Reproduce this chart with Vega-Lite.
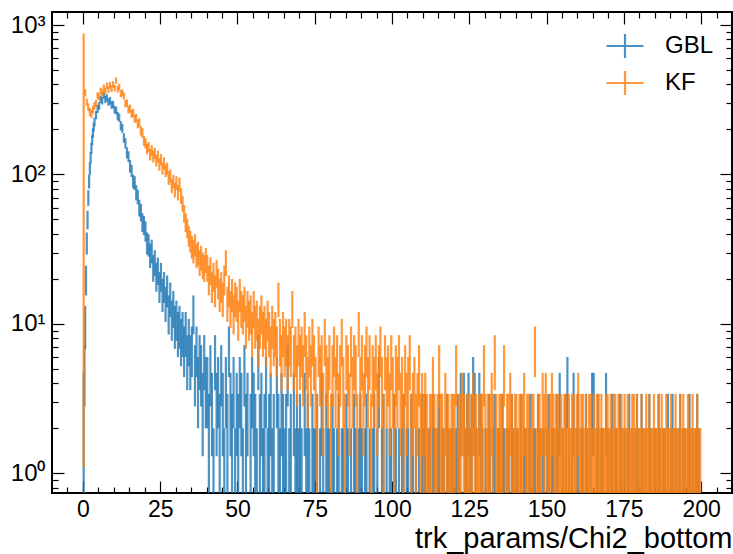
{
"$schema": "https://vega.github.io/schema/vega-lite/v6.json",
"width": 680, "height": 481,
"autosize": {"type": "none"},
"padding": {"left": 52, "top": 12, "right": 1, "bottom": 61},
"background": "white",
"config": {
  "font": "Liberation Sans",
  "view": {"stroke": "black", "strokeWidth": 2},
  "axis": {"grid": false, "domain": false, "tickColor": "black", "tickWidth": 1.2, "labelColor": "black", "labelFont": "Liberation Sans", "titleColor": "black", "zindex": 1}
},
"datasets": {
"GBL": [
{"x":0.25,"y":2,"l":0.5,"h":4.7},{"x":0.5,"y":5,"l":2.8,"h":7.2},{"x":0.75,"y":10,"l":6.8,"h":13.2},{"x":1.0,"y":20,"l":15.5,"h":24.5},{"x":1.25,"y":35,"l":29.1,"h":40.9},{"x":1.5,"y":50,"l":42.9,"h":57.1},{"x":1.75,"y":70,"l":61.6,"h":78.4},{"x":2.0,"y":90,"l":80.5,"h":99.5},{"x":2.25,"y":110,"l":99.5,"h":120.5},{"x":2.5,"y":130,"l":118.6,"h":141.4},{"x":2.75,"y":150,"l":137.8,"h":162.2},{"x":3.0,"y":170,"l":157,"h":183},{"x":3.25,"y":190,"l":176.2,"h":203.8},{"x":3.5,"y":208,"l":194,"h":222},{"x":3.75,"y":225,"l":210,"h":240},{"x":4.25,"y":250,"l":234,"h":266},{"x":4.75,"y":275,"l":258,"h":292},
{"x":5.25,"y":288,"l":271,"h":305},{"x":5.75,"y":318,"l":300,"h":336},{"x":6.25,"y":312,"l":294,"h":330},{"x":6.75,"y":340,"l":322,"h":358},{"x":7.25,"y":318,"l":300,"h":336},{"x":7.75,"y":326,"l":308,"h":344},{"x":8.25,"y":305,"l":288,"h":322},{"x":8.75,"y":312,"l":294,"h":330},{"x":9.25,"y":292,"l":275,"h":309},{"x":9.75,"y":294,"l":277,"h":311},
{"x":10.25,"y":272,"l":256,"h":288},{"x":10.75,"y":268,"l":252,"h":284},{"x":11.25,"y":246,"l":230,"h":262},{"x":11.75,"y":240,"l":225,"h":255},{"x":12.25,"y":212,"l":197,"h":227},{"x":12.75,"y":204,"l":190,"h":218},{"x":13.25,"y":176,"l":163,"h":189},{"x":13.75,"y":162,"l":149,"h":175},{"x":14.25,"y":140,"l":128,"h":152},{"x":14.75,"y":132,"l":121,"h":143},
{"x":15.25,"y":114,"l":103,"h":125},{"x":15.75,"y":106,"l":96,"h":116},{"x":16.25,"y":90,"l":80.5,"h":99.5},{"x":16.75,"y":88,"l":78.6,"h":97.4},{"x":17.25,"y":76,"l":67,"h":85},{"x":17.75,"y":71,"l":63,"h":79},{"x":18.25,"y":60,"l":52.3,"h":67.7},{"x":18.75,"y":56,"l":48.5,"h":63.5},{"x":19.25,"y":48,"l":41.1,"h":54.9},{"x":19.75,"y":46,"l":39.2,"h":52.8},
{"x":20.25,"y":42,"l":35.5,"h":48.5},{"x":20.75,"y":35,"l":29.1,"h":40.9},{"x":21.25,"y":34,"l":28.2,"h":39.8},{"x":21.75,"y":29,"l":23.6,"h":34.4},{"x":22.25,"y":31,"l":25.4,"h":36.6},{"x":22.75,"y":24,"l":19.1,"h":28.9},{"x":23.25,"y":26,"l":20.9,"h":31.1},{"x":23.75,"y":21,"l":16.4,"h":25.6},{"x":24.25,"y":23,"l":18.2,"h":27.8},{"x":24.75,"y":18,"l":13.8,"h":22.2},
{"x":25.25,"y":21,"l":16.4,"h":25.6},{"x":25.75,"y":16,"l":12,"h":20},{"x":26.25,"y":18,"l":13.8,"h":22.2},{"x":26.75,"y":14,"l":10.3,"h":17.7},{"x":27.25,"y":17,"l":12.9,"h":21.1},{"x":27.75,"y":12,"l":8.5,"h":15.5},{"x":28.25,"y":15,"l":11.1,"h":18.9},{"x":28.75,"y":11,"l":7.7,"h":14.3},{"x":29.25,"y":13,"l":9.4,"h":16.6},{"x":29.75,"y":10,"l":6.8,"h":13.2},
{"x":30.25,"y":11,"l":7.7,"h":14.3},{"x":30.75,"y":9,"l":6,"h":12},{"x":31.25,"y":10,"l":6.8,"h":13.2},{"x":31.75,"y":8,"l":5.2,"h":10.8},{"x":32.25,"y":9,"l":6,"h":12},{"x":32.75,"y":7,"l":4.4,"h":9.6},{"x":33.25,"y":9,"l":6,"h":12},{"x":33.75,"y":6,"l":3.6,"h":8.4},{"x":34.25,"y":8,"l":5.2,"h":10.8},{"x":34.75,"y":6,"l":3.6,"h":8.4},
{"x":35.25,"y":7,"l":4.4,"h":9.6},{"x":35.75,"y":12,"l":8.5,"h":15.5},{"x":36.25,"y":5,"l":2.8,"h":7.2},{"x":36.75,"y":7,"l":4.4,"h":9.6},{"x":37.25,"y":4,"l":2,"h":6},{"x":37.75,"y":6,"l":3.6,"h":8.4},{"x":38.25,"y":5,"l":2.8,"h":7.2},{"x":38.75,"y":3,"l":1.3,"h":4.7},{"x":39.25,"y":6,"l":3.6,"h":8.4},{"x":39.75,"y":4,"l":2,"h":6},
{"x":40.25,"y":4,"l":2,"h":6},{"x":40.75,"y":2,"l":0.6,"h":3.4},{"x":41.25,"y":5,"l":2.8,"h":7.2},{"x":41.75,"y":3,"l":1.3,"h":4.7},{"x":42.25,"y":1,"l":0.5,"h":2},{"x":42.75,"y":6,"l":3.6,"h":8.4},{"x":43.25,"y":3,"l":1.3,"h":4.7},{"x":43.75,"y":4,"l":2,"h":6},{"x":44.25,"y":2,"l":0.6,"h":3.4},{"x":44.75,"y":5,"l":2.8,"h":7.2},
{"x":45.25,"y":3,"l":1.3,"h":4.7},{"x":45.75,"y":1,"l":0.5,"h":2},{"x":46.25,"y":4,"l":2,"h":6},{"x":46.75,"y":2,"l":0.6,"h":3.4},{"x":47.25,"y":7,"l":4.4,"h":9.6},{"x":47.75,"y":3,"l":1.3,"h":4.7},{"x":48.25,"y":2,"l":0.6,"h":3.4},{"x":48.75,"y":4,"l":2,"h":6},{"x":49.25,"y":1,"l":0.5,"h":2},{"x":49.75,"y":3,"l":1.3,"h":4.7},
{"x":50.25,"y":2,"l":0.6,"h":3.4},{"x":50.75,"y":4,"l":2,"h":6},{"x":51.25,"y":3,"l":1.3,"h":4.7},{"x":51.75,"y":1,"l":0.5,"h":2},{"x":52.25,"y":5,"l":2.8,"h":7.2},{"x":52.75,"y":2,"l":0.6,"h":3.4},{"x":53.25,"y":3,"l":1.3,"h":4.7},{"x":54.25,"y":2,"l":0.6,"h":3.4},{"x":54.75,"y":4,"l":2,"h":6},
{"x":55.25,"y":3,"l":1.3,"h":4.7},{"x":55.75,"y":2,"l":0.6,"h":3.4},{"x":56.25,"y":1,"l":0.5,"h":2},{"x":56.75,"y":6,"l":3.6,"h":8.4},{"x":57.25,"y":2,"l":0.6,"h":3.4},{"x":57.75,"y":3,"l":1.3,"h":4.7},{"x":58.25,"y":1,"l":0.5,"h":2},{"x":58.75,"y":2,"l":0.6,"h":3.4},{"x":59.25,"y":4,"l":2,"h":6},{"x":59.75,"y":1,"l":0.5,"h":2},
{"x":60.25,"y":2,"l":0.6,"h":3.4},{"x":60.75,"y":3,"l":1.3,"h":4.7},{"x":61.25,"y":1,"l":0.5,"h":2},{"x":61.75,"y":2,"l":0.6,"h":3.4},{"x":62.75,"y":4,"l":2,"h":6},{"x":63.25,"y":2,"l":0.6,"h":3.4},{"x":63.75,"y":1,"l":0.5,"h":2},{"x":64.25,"y":3,"l":1.3,"h":4.7},{"x":64.75,"y":2,"l":0.6,"h":3.4},
{"x":65.25,"y":1,"l":0.5,"h":2},{"x":65.75,"y":2,"l":0.6,"h":3.4},{"x":66.25,"y":5,"l":2.8,"h":7.2},{"x":66.75,"y":1,"l":0.5,"h":2},{"x":67.25,"y":2,"l":0.6,"h":3.4},{"x":68.25,"y":3,"l":1.3,"h":4.7},{"x":68.75,"y":1,"l":0.5,"h":2},{"x":69.25,"y":2,"l":0.6,"h":3.4},{"x":69.75,"y":1,"l":0.5,"h":2},
{"x":70.25,"y":2,"l":0.6,"h":3.4},{"x":70.75,"y":1,"l":0.5,"h":2},{"x":71.75,"y":3,"l":1.3,"h":4.7},{"x":72.25,"y":1,"l":0.5,"h":2},{"x":72.75,"y":2,"l":0.6,"h":3.4},{"x":73.25,"y":1,"l":0.5,"h":2},{"x":74.25,"y":2,"l":0.6,"h":3.4},{"x":74.75,"y":1,"l":0.5,"h":2},
{"x":75.25,"y":1,"l":0.5,"h":2},{"x":75.75,"y":2,"l":0.6,"h":3.4},{"x":76.75,"y":1,"l":0.5,"h":2},{"x":77.25,"y":3,"l":1.3,"h":4.7},{"x":77.75,"y":1,"l":0.5,"h":2},{"x":78.75,"y":2,"l":0.6,"h":3.4},{"x":79.25,"y":1,"l":0.5,"h":2},{"x":79.75,"y":1,"l":0.5,"h":2},
{"x":80.75,"y":2,"l":0.6,"h":3.4},{"x":81.25,"y":1,"l":0.5,"h":2},{"x":82.25,"y":1,"l":0.5,"h":2},{"x":82.75,"y":2,"l":0.6,"h":3.4},{"x":83.75,"y":1,"l":0.5,"h":2},{"x":84.25,"y":1,"l":0.5,"h":2},
{"x":85.25,"y":2,"l":0.6,"h":3.4},{"x":85.75,"y":1,"l":0.5,"h":2},{"x":86.75,"y":1,"l":0.5,"h":2},{"x":87.75,"y":2,"l":0.6,"h":3.4},{"x":88.25,"y":1,"l":0.5,"h":2},{"x":89.25,"y":1,"l":0.5,"h":2},{"x":89.75,"y":2,"l":0.6,"h":3.4},
{"x":90.25,"y":1,"l":0.5,"h":2},{"x":91.25,"y":1,"l":0.5,"h":2},{"x":91.75,"y":2,"l":0.6,"h":3.4},{"x":92.75,"y":1,"l":0.5,"h":2},{"x":93.75,"y":1,"l":0.5,"h":2},{"x":94.25,"y":2,"l":0.6,"h":3.4},
{"x":95.25,"y":1,"l":0.5,"h":2},{"x":95.75,"y":4,"l":2,"h":6},{"x":96.75,"y":1,"l":0.5,"h":2},{"x":97.25,"y":2,"l":0.6,"h":3.4},{"x":98.25,"y":1,"l":0.5,"h":2},{"x":99.25,"y":1,"l":0.5,"h":2},{"x":99.75,"y":1,"l":0.5,"h":2},
{"x":100.75,"y":2,"l":0.6,"h":3.4},{"x":101.25,"y":1,"l":0.5,"h":2},{"x":102.25,"y":1,"l":0.5,"h":2},{"x":103.25,"y":1,"l":0.5,"h":2},{"x":103.75,"y":2,"l":0.6,"h":3.4},{"x":104.75,"y":1,"l":0.5,"h":2},
{"x":105.25,"y":1,"l":0.5,"h":2},{"x":106.25,"y":2,"l":0.6,"h":3.4},{"x":106.75,"y":1,"l":0.5,"h":2},{"x":107.75,"y":1,"l":0.5,"h":2},{"x":108.75,"y":1,"l":0.5,"h":2},{"x":109.75,"y":2,"l":0.6,"h":3.4},
{"x":110.25,"y":1,"l":0.5,"h":2},{"x":110.75,"y":2,"l":0.6,"h":3.4},{"x":111.75,"y":1,"l":0.5,"h":2},{"x":112.25,"y":1,"l":0.5,"h":2},{"x":113.25,"y":2,"l":0.6,"h":3.4},{"x":113.75,"y":1,"l":0.5,"h":2},{"x":114.75,"y":1,"l":0.5,"h":2},
{"x":115.25,"y":2,"l":0.6,"h":3.4},{"x":116.25,"y":1,"l":0.5,"h":2},{"x":116.75,"y":1,"l":0.5,"h":2},{"x":117.75,"y":2,"l":0.6,"h":3.4},{"x":118.25,"y":1,"l":0.5,"h":2},{"x":119.25,"y":1,"l":0.5,"h":2},{"x":119.75,"y":1,"l":0.5,"h":2},
{"x":120.75,"y":1,"l":0.5,"h":2},{"x":121.25,"y":2,"l":0.6,"h":3.4},{"x":121.75,"y":1,"l":0.5,"h":2},{"x":122.25,"y":3,"l":1.3,"h":4.7},{"x":123.25,"y":3,"l":1.3,"h":4.7},{"x":123.75,"y":1,"l":0.5,"h":2},{"x":124.25,"y":2,"l":0.6,"h":3.4},{"x":124.75,"y":3,"l":1.3,"h":4.7},
{"x":125.25,"y":1,"l":0.5,"h":2},{"x":125.75,"y":2,"l":0.6,"h":3.4},{"x":126.25,"y":4,"l":2,"h":6},{"x":126.75,"y":3,"l":1.3,"h":4.7},{"x":127.25,"y":1,"l":0.5,"h":2},{"x":128.25,"y":3,"l":1.3,"h":4.7},{"x":128.75,"y":2,"l":0.6,"h":3.4},{"x":129.25,"y":1,"l":0.5,"h":2},
{"x":130.25,"y":1,"l":0.5,"h":2},{"x":131.25,"y":2,"l":0.6,"h":3.4},{"x":131.75,"y":1,"l":0.5,"h":2},{"x":132.75,"y":1,"l":0.5,"h":2},{"x":133.25,"y":2,"l":0.6,"h":3.4},{"x":134.25,"y":1,"l":0.5,"h":2},{"x":134.75,"y":1,"l":0.5,"h":2},
{"x":135.75,"y":2,"l":0.6,"h":3.4},{"x":136.25,"y":1,"l":0.5,"h":2},{"x":137.25,"y":1,"l":0.5,"h":2},{"x":137.75,"y":1,"l":0.5,"h":2},{"x":138.75,"y":2,"l":0.6,"h":3.4},{"x":139.25,"y":1,"l":0.5,"h":2},
{"x":140.25,"y":1,"l":0.5,"h":2},{"x":140.75,"y":1,"l":0.5,"h":2},{"x":141.75,"y":2,"l":0.6,"h":3.4},{"x":142.75,"y":1,"l":0.5,"h":2},{"x":143.25,"y":1,"l":0.5,"h":2},{"x":144.25,"y":1,"l":0.5,"h":2},{"x":144.75,"y":2,"l":0.6,"h":3.4},
{"x":145.75,"y":1,"l":0.5,"h":2},{"x":146.25,"y":1,"l":0.5,"h":2},{"x":147.25,"y":2,"l":0.6,"h":3.4},{"x":147.75,"y":1,"l":0.5,"h":2},{"x":148.75,"y":1,"l":0.5,"h":2},{"x":149.25,"y":1,"l":0.5,"h":2},
{"x":150.25,"y":1,"l":0.5,"h":2},{"x":150.75,"y":2,"l":0.6,"h":3.4},{"x":151.75,"y":1,"l":0.5,"h":2},{"x":152.25,"y":1,"l":0.5,"h":2},{"x":153.25,"y":2,"l":0.6,"h":3.4},{"x":153.75,"y":1,"l":0.5,"h":2},{"x":154.25,"y":3,"l":1.3,"h":4.7},
{"x":155.25,"y":1,"l":0.5,"h":2},{"x":156.25,"y":2,"l":0.6,"h":3.4},{"x":156.75,"y":4,"l":2,"h":6},{"x":157.25,"y":1,"l":0.5,"h":2},{"x":158.25,"y":1,"l":0.5,"h":2},{"x":158.75,"y":3,"l":1.3,"h":4.7},{"x":159.75,"y":1,"l":0.5,"h":2},
{"x":160.25,"y":2,"l":0.6,"h":3.4},{"x":161.25,"y":1,"l":0.5,"h":2},{"x":161.75,"y":1,"l":0.5,"h":2},{"x":162.75,"y":2,"l":0.6,"h":3.4},{"x":163.25,"y":1,"l":0.5,"h":2},{"x":164.25,"y":1,"l":0.5,"h":2},{"x":164.75,"y":3,"l":1.3,"h":4.7},
{"x":165.25,"y":3,"l":1.3,"h":4.7},{"x":166.25,"y":1,"l":0.5,"h":2},{"x":166.75,"y":2,"l":0.6,"h":3.4},{"x":167.75,"y":1,"l":0.5,"h":2},{"x":168.25,"y":1,"l":0.5,"h":2},{"x":169.25,"y":3,"l":1.3,"h":4.7},{"x":169.75,"y":1,"l":0.5,"h":2},
{"x":170.75,"y":1,"l":0.5,"h":2},{"x":171.25,"y":2,"l":0.6,"h":3.4},{"x":172.25,"y":1,"l":0.5,"h":2},{"x":172.75,"y":1,"l":0.5,"h":2},{"x":173.75,"y":2,"l":0.6,"h":3.4},{"x":174.25,"y":1,"l":0.5,"h":2},
{"x":175.25,"y":1,"l":0.5,"h":2},{"x":176.25,"y":1,"l":0.5,"h":2},{"x":176.75,"y":2,"l":0.6,"h":3.4},{"x":177.75,"y":1,"l":0.5,"h":2},{"x":178.75,"y":1,"l":0.5,"h":2},{"x":179.25,"y":2,"l":0.6,"h":3.4},{"x":179.75,"y":1,"l":0.5,"h":2},
{"x":180.75,"y":2,"l":0.6,"h":3.4},{"x":181.25,"y":1,"l":0.5,"h":2},{"x":182.25,"y":1,"l":0.5,"h":2},{"x":183.25,"y":2,"l":0.6,"h":3.4},{"x":183.75,"y":1,"l":0.5,"h":2},{"x":184.75,"y":1,"l":0.5,"h":2},
{"x":185.25,"y":1,"l":0.5,"h":2},{"x":186.25,"y":2,"l":0.6,"h":3.4},{"x":186.75,"y":1,"l":0.5,"h":2},{"x":187.75,"y":1,"l":0.5,"h":2},{"x":188.25,"y":1,"l":0.5,"h":2},{"x":189.25,"y":2,"l":0.6,"h":3.4},
{"x":190.25,"y":1,"l":0.5,"h":2},{"x":190.75,"y":2,"l":0.6,"h":3.4},{"x":191.75,"y":1,"l":0.5,"h":2},{"x":192.75,"y":1,"l":0.5,"h":2},{"x":193.25,"y":2,"l":0.6,"h":3.4},{"x":194.25,"y":1,"l":0.5,"h":2},{"x":194.75,"y":1,"l":0.5,"h":2},
{"x":195.75,"y":1,"l":0.5,"h":2},{"x":196.25,"y":2,"l":0.6,"h":3.4},{"x":197.25,"y":1,"l":0.5,"h":2},{"x":198.25,"y":1,"l":0.5,"h":2},{"x":198.75,"y":2,"l":0.6,"h":3.4},{"x":199.25,"y":1,"l":0.5,"h":2}
],
"KF": [
{"x":0.25,"y":850,"l":1.1,"h":879},{"x":0.75,"y":352,"l":333,"h":371},{"x":1.25,"y":305,"l":288,"h":322},{"x":1.75,"y":282,"l":265,"h":299},{"x":2.25,"y":262,"l":246,"h":278},{"x":2.75,"y":255,"l":239,"h":271},{"x":3.25,"y":272,"l":255,"h":289},{"x":3.75,"y":288,"l":271,"h":305},{"x":4.25,"y":300,"l":283,"h":317},{"x":4.75,"y":338,"l":320,"h":356},
{"x":5.25,"y":330,"l":312,"h":348},{"x":5.75,"y":362,"l":343,"h":381},{"x":6.25,"y":352,"l":333,"h":371},{"x":6.75,"y":380,"l":361,"h":399},{"x":7.25,"y":362,"l":343,"h":381},{"x":7.75,"y":392,"l":372,"h":412},{"x":8.25,"y":370,"l":351,"h":389},{"x":8.75,"y":396,"l":376,"h":416},{"x":9.25,"y":376,"l":357,"h":395},{"x":9.75,"y":400,"l":380,"h":420},
{"x":10.25,"y":378,"l":359,"h":397},{"x":10.75,"y":425,"l":404,"h":446},{"x":11.25,"y":372,"l":353,"h":391},{"x":11.75,"y":385,"l":365,"h":405},{"x":12.25,"y":348,"l":329,"h":367},{"x":12.75,"y":352,"l":333,"h":371},{"x":13.25,"y":335,"l":317,"h":353},{"x":13.75,"y":298,"l":281,"h":315},{"x":14.25,"y":300,"l":283,"h":317},{"x":14.75,"y":272,"l":256,"h":288},
{"x":15.25,"y":276,"l":259,"h":293},{"x":15.75,"y":255,"l":239,"h":271},{"x":16.25,"y":258,"l":242,"h":274},{"x":16.75,"y":236,"l":221,"h":251},{"x":17.25,"y":240,"l":225,"h":255},{"x":17.75,"y":218,"l":203,"h":233},{"x":18.25,"y":222,"l":207,"h":237},{"x":18.75,"y":196,"l":182,"h":210},{"x":19.25,"y":190,"l":176,"h":204},{"x":19.75,"y":168,"l":155,"h":181},
{"x":20.25,"y":162,"l":149,"h":175},{"x":20.75,"y":148,"l":136,"h":160},{"x":21.25,"y":153,"l":141,"h":165},{"x":21.75,"y":136,"l":124,"h":148},{"x":22.25,"y":145,"l":133,"h":157},{"x":22.75,"y":132,"l":120,"h":144},{"x":23.25,"y":139,"l":127,"h":151},{"x":23.75,"y":124,"l":113,"h":135},{"x":24.25,"y":132,"l":120,"h":144},{"x":24.75,"y":117,"l":106,"h":128},
{"x":25.25,"y":126,"l":115,"h":137},{"x":25.75,"y":110,"l":100,"h":120},{"x":26.25,"y":119,"l":108,"h":130},{"x":26.75,"y":106,"l":96,"h":116},{"x":27.25,"y":110,"l":100,"h":120},{"x":27.75,"y":95,"l":85,"h":105},{"x":28.25,"y":98,"l":88,"h":108},{"x":28.75,"y":84,"l":75,"h":93},{"x":29.25,"y":90,"l":80.5,"h":99.5},{"x":29.75,"y":79,"l":70,"h":88},
{"x":30.25,"y":88,"l":78.6,"h":97.4},{"x":30.75,"y":76,"l":67,"h":85},{"x":31.25,"y":86,"l":76.7,"h":95.3},{"x":31.75,"y":72,"l":63.5,"h":80.5},{"x":32.25,"y":64,"l":56,"h":72},{"x":32.75,"y":55,"l":47.6,"h":62.4},{"x":33.25,"y":48,"l":41.1,"h":54.9},{"x":33.75,"y":44,"l":37.4,"h":50.6},{"x":34.25,"y":39,"l":32.8,"h":45.2},{"x":34.75,"y":36,"l":30,"h":42},
{"x":35.25,"y":33,"l":27.3,"h":38.7},{"x":35.75,"y":31,"l":25.4,"h":36.6},{"x":36.25,"y":34,"l":28.2,"h":39.8},{"x":36.75,"y":29,"l":23.6,"h":34.4},{"x":37.25,"y":30,"l":24.5,"h":35.5},{"x":37.75,"y":26,"l":20.9,"h":31.1},{"x":38.25,"y":28,"l":22.7,"h":33.3},{"x":38.75,"y":25,"l":20,"h":30},{"x":39.25,"y":24,"l":19.1,"h":28.9},{"x":39.75,"y":27,"l":21.8,"h":32.2},
{"x":40.25,"y":24,"l":19.1,"h":28.9},{"x":40.75,"y":20,"l":15.5,"h":24.5},{"x":41.25,"y":23,"l":18.2,"h":27.8},{"x":41.75,"y":18,"l":13.8,"h":22.2},{"x":42.25,"y":21,"l":16.4,"h":25.6},{"x":42.75,"y":17,"l":12.9,"h":21.1},{"x":43.25,"y":22,"l":17.3,"h":26.7},{"x":43.75,"y":19,"l":14.6,"h":23.4},{"x":44.25,"y":16,"l":12,"h":20},{"x":44.75,"y":18,"l":13.8,"h":22.2},
{"x":45.25,"y":15,"l":11.1,"h":18.9},{"x":45.75,"y":20,"l":15.5,"h":24.5},{"x":46.25,"y":26,"l":20.9,"h":31.1},{"x":46.75,"y":14,"l":10.3,"h":17.7},{"x":47.25,"y":17,"l":12.9,"h":21.1},{"x":47.75,"y":13,"l":9.4,"h":16.6},{"x":48.25,"y":16,"l":12,"h":20},{"x":48.75,"y":12,"l":8.5,"h":15.5},{"x":49.25,"y":15,"l":11.1,"h":18.9},{"x":49.75,"y":14,"l":10.3,"h":17.7},
{"x":50.25,"y":11,"l":7.7,"h":14.3},{"x":50.75,"y":16,"l":12,"h":20},{"x":51.25,"y":13,"l":9.4,"h":16.6},{"x":51.75,"y":12,"l":8.5,"h":15.5},{"x":52.25,"y":14,"l":10.3,"h":17.7},{"x":52.75,"y":10,"l":6.8,"h":13.2},{"x":53.25,"y":13,"l":9.4,"h":16.6},{"x":53.75,"y":11,"l":7.7,"h":14.3},{"x":54.25,"y":12,"l":8.5,"h":15.5},{"x":54.75,"y":9,"l":6,"h":12},
{"x":55.25,"y":13,"l":9.4,"h":16.6},{"x":55.75,"y":10,"l":6.8,"h":13.2},{"x":56.25,"y":11,"l":7.7,"h":14.3},{"x":56.75,"y":8,"l":5.2,"h":10.8},{"x":57.25,"y":10,"l":6.8,"h":13.2},{"x":57.75,"y":12,"l":8.5,"h":15.5},{"x":58.25,"y":9,"l":6,"h":12},{"x":58.75,"y":10,"l":6.8,"h":13.2},{"x":59.25,"y":8,"l":5.2,"h":10.8},{"x":59.75,"y":11,"l":7.7,"h":14.3},
{"x":60.25,"y":9,"l":6,"h":12},{"x":60.75,"y":7,"l":4.4,"h":9.6},{"x":61.25,"y":10,"l":6.8,"h":13.2},{"x":61.75,"y":8,"l":5.2,"h":10.8},{"x":62.25,"y":9,"l":6,"h":12},{"x":62.75,"y":7,"l":4.4,"h":9.6},{"x":63.25,"y":15,"l":11.1,"h":18.9},{"x":63.75,"y":8,"l":5.2,"h":10.8},{"x":64.25,"y":6,"l":3.6,"h":8.4},{"x":64.75,"y":9,"l":6,"h":12},
{"x":65.25,"y":7,"l":4.4,"h":9.6},{"x":65.75,"y":8,"l":5.2,"h":10.8},{"x":66.25,"y":6,"l":3.6,"h":8.4},{"x":66.75,"y":8,"l":5.2,"h":10.8},{"x":67.25,"y":7,"l":4.4,"h":9.6},{"x":67.75,"y":13,"l":9.4,"h":16.6},{"x":68.25,"y":6,"l":3.6,"h":8.4},{"x":68.75,"y":7,"l":4.4,"h":9.6},{"x":69.25,"y":5,"l":2.8,"h":7.2},{"x":69.75,"y":8,"l":5.2,"h":10.8},
{"x":70.25,"y":6,"l":3.6,"h":8.4},{"x":70.75,"y":7,"l":4.4,"h":9.6},{"x":71.25,"y":5,"l":2.8,"h":7.2},{"x":71.75,"y":9,"l":6,"h":12},{"x":72.25,"y":6,"l":3.6,"h":8.4},{"x":72.75,"y":4,"l":2,"h":6},{"x":73.25,"y":7,"l":4.4,"h":9.6},{"x":73.75,"y":5,"l":2.8,"h":7.2},{"x":74.25,"y":8,"l":5.2,"h":10.8},{"x":74.75,"y":6,"l":3.6,"h":8.4},
{"x":75.25,"y":4,"l":2,"h":6},{"x":75.75,"y":2,"l":0.6,"h":3.4},{"x":76.25,"y":7,"l":4.4,"h":9.6},{"x":76.75,"y":5,"l":2.8,"h":7.2},{"x":77.25,"y":6,"l":3.6,"h":8.4},{"x":77.75,"y":3,"l":1.3,"h":4.7},{"x":78.25,"y":8,"l":5.2,"h":10.8},{"x":78.75,"y":5,"l":2.8,"h":7.2},{"x":79.25,"y":4,"l":2,"h":6},{"x":79.75,"y":6,"l":3.6,"h":8.4},
{"x":80.25,"y":2,"l":0.6,"h":3.4},{"x":80.75,"y":5,"l":2.8,"h":7.2},{"x":81.25,"y":7,"l":4.4,"h":9.6},{"x":81.75,"y":4,"l":2,"h":6},{"x":82.25,"y":6,"l":3.6,"h":8.4},{"x":82.75,"y":3,"l":1.3,"h":4.7},{"x":83.25,"y":5,"l":2.8,"h":7.2},{"x":83.75,"y":8,"l":5.2,"h":10.8},{"x":84.25,"y":4,"l":2,"h":6},{"x":84.75,"y":2,"l":0.6,"h":3.4},
{"x":85.25,"y":6,"l":3.6,"h":8.4},{"x":85.75,"y":5,"l":2.8,"h":7.2},{"x":86.25,"y":3,"l":1.3,"h":4.7},{"x":86.75,"y":7,"l":4.4,"h":9.6},{"x":87.25,"y":4,"l":2,"h":6},{"x":87.75,"y":6,"l":3.6,"h":8.4},{"x":88.25,"y":5,"l":2.8,"h":7.2},{"x":88.75,"y":2,"l":0.6,"h":3.4},{"x":89.25,"y":9,"l":6,"h":12},{"x":89.75,"y":4,"l":2,"h":6},
{"x":90.25,"y":6,"l":3.6,"h":8.4},{"x":90.75,"y":3,"l":1.3,"h":4.7},{"x":91.25,"y":5,"l":2.8,"h":7.2},{"x":91.75,"y":7,"l":4.4,"h":9.6},{"x":92.25,"y":4,"l":2,"h":6},{"x":92.75,"y":6,"l":3.6,"h":8.4},{"x":93.25,"y":2,"l":0.6,"h":3.4},{"x":93.75,"y":5,"l":2.8,"h":7.2},{"x":94.25,"y":4,"l":2,"h":6},{"x":94.75,"y":6,"l":3.6,"h":8.4},
{"x":95.25,"y":3,"l":1.3,"h":4.7},{"x":95.75,"y":5,"l":2.8,"h":7.2},{"x":96.25,"y":7,"l":4.4,"h":9.6},{"x":96.75,"y":4,"l":2,"h":6},{"x":97.25,"y":2,"l":0.6,"h":3.4},{"x":97.75,"y":6,"l":3.6,"h":8.4},{"x":98.25,"y":4,"l":2,"h":6},{"x":98.75,"y":5,"l":2.8,"h":7.2},{"x":99.25,"y":3,"l":1.3,"h":4.7},{"x":99.75,"y":6,"l":3.6,"h":8.4},
{"x":100.25,"y":4,"l":2,"h":6},{"x":100.75,"y":2,"l":0.6,"h":3.4},{"x":101.25,"y":5,"l":2.8,"h":7.2},{"x":101.75,"y":4,"l":2,"h":6},{"x":102.25,"y":6,"l":3.6,"h":8.4},{"x":102.75,"y":3,"l":1.3,"h":4.7},{"x":103.25,"y":4,"l":2,"h":6},{"x":103.75,"y":2,"l":0.6,"h":3.4},{"x":104.25,"y":5,"l":2.8,"h":7.2},{"x":104.75,"y":3,"l":1.3,"h":4.7},
{"x":105.25,"y":4,"l":2,"h":6},{"x":105.75,"y":6,"l":3.6,"h":8.4},{"x":106.25,"y":2,"l":0.6,"h":3.4},{"x":106.75,"y":3,"l":1.3,"h":4.7},{"x":107.25,"y":4,"l":2,"h":6},{"x":107.75,"y":2,"l":0.6,"h":3.4},{"x":108.25,"y":3,"l":1.3,"h":4.7},{"x":108.75,"y":5,"l":2.8,"h":7.2},{"x":109.25,"y":2,"l":0.6,"h":3.4},{"x":109.75,"y":3,"l":1.3,"h":4.7},
{"x":110.25,"y":2,"l":0.6,"h":3.4},{"x":110.75,"y":3,"l":1.3,"h":4.7},{"x":111.25,"y":2,"l":0.6,"h":3.4},{"x":111.75,"y":1,"l":0.5,"h":2},{"x":112.25,"y":2,"l":0.6,"h":3.4},{"x":112.75,"y":2,"l":0.6,"h":3.4},{"x":113.25,"y":4,"l":2,"h":6},{"x":113.75,"y":2,"l":0.6,"h":3.4},{"x":114.25,"y":1,"l":0.5,"h":2},{"x":114.75,"y":2,"l":0.6,"h":3.4},
{"x":115.25,"y":5,"l":2.8,"h":7.2},{"x":115.75,"y":2,"l":0.6,"h":3.4},{"x":116.25,"y":2,"l":0.6,"h":3.4},{"x":116.75,"y":1,"l":0.5,"h":2},{"x":117.25,"y":3,"l":1.3,"h":4.7},{"x":117.75,"y":2,"l":0.6,"h":3.4},{"x":118.25,"y":2,"l":0.6,"h":3.4},{"x":118.75,"y":1,"l":0.5,"h":2},{"x":119.25,"y":2,"l":0.6,"h":3.4},{"x":119.75,"y":2,"l":0.6,"h":3.4},
{"x":120.25,"y":2,"l":0.6,"h":3.4},{"x":120.75,"y":5,"l":2.8,"h":7.2},{"x":121.25,"y":1,"l":0.5,"h":2},{"x":121.75,"y":2,"l":0.6,"h":3.4},{"x":122.25,"y":2,"l":0.6,"h":3.4},{"x":122.75,"y":3,"l":1.3,"h":4.7},{"x":123.25,"y":2,"l":0.6,"h":3.4},{"x":123.75,"y":1,"l":0.5,"h":2},{"x":124.25,"y":2,"l":0.6,"h":3.4},{"x":124.75,"y":2,"l":0.6,"h":3.4},
{"x":125.25,"y":1,"l":0.5,"h":2},{"x":125.75,"y":2,"l":0.6,"h":3.4},{"x":126.25,"y":3,"l":1.3,"h":4.7},{"x":126.75,"y":2,"l":0.6,"h":3.4},{"x":127.25,"y":2,"l":0.6,"h":3.4},{"x":127.75,"y":1,"l":0.5,"h":2},{"x":128.25,"y":2,"l":0.6,"h":3.4},{"x":128.75,"y":2,"l":0.6,"h":3.4},{"x":129.25,"y":2,"l":0.6,"h":3.4},{"x":129.75,"y":5,"l":2.8,"h":7.2},
{"x":130.25,"y":2,"l":0.6,"h":3.4},{"x":130.75,"y":1,"l":0.5,"h":2},{"x":131.25,"y":2,"l":0.6,"h":3.4},{"x":131.75,"y":2,"l":0.6,"h":3.4},{"x":132.25,"y":3,"l":1.3,"h":4.7},{"x":132.75,"y":2,"l":0.6,"h":3.4},{"x":133.25,"y":6,"l":3.6,"h":8.4},{"x":133.75,"y":2,"l":0.6,"h":3.4},{"x":134.25,"y":1,"l":0.5,"h":2},{"x":134.75,"y":2,"l":0.6,"h":3.4},
{"x":135.25,"y":2,"l":0.6,"h":3.4},{"x":135.75,"y":2,"l":0.6,"h":3.4},{"x":136.25,"y":5,"l":2.8,"h":7.2},{"x":136.75,"y":1,"l":0.5,"h":2},{"x":137.25,"y":2,"l":0.6,"h":3.4},{"x":137.75,"y":2,"l":0.6,"h":3.4},{"x":138.25,"y":3,"l":1.3,"h":4.7},{"x":138.75,"y":2,"l":0.6,"h":3.4},{"x":139.25,"y":1,"l":0.5,"h":2},{"x":139.75,"y":2,"l":0.6,"h":3.4},
{"x":140.25,"y":2,"l":0.6,"h":3.4},{"x":140.75,"y":1,"l":0.5,"h":2},{"x":141.25,"y":2,"l":0.6,"h":3.4},{"x":141.75,"y":2,"l":0.6,"h":3.4},{"x":142.25,"y":2,"l":0.6,"h":3.4},{"x":142.75,"y":3,"l":1.3,"h":4.7},{"x":143.25,"y":1,"l":0.5,"h":2},{"x":143.75,"y":2,"l":0.6,"h":3.4},{"x":144.25,"y":2,"l":0.6,"h":3.4},{"x":144.75,"y":1,"l":0.5,"h":2},
{"x":145.25,"y":2,"l":0.6,"h":3.4},{"x":145.75,"y":2,"l":0.6,"h":3.4},{"x":146.25,"y":7,"l":4.4,"h":9.6},{"x":146.75,"y":1,"l":0.5,"h":2},{"x":147.25,"y":2,"l":0.6,"h":3.4},{"x":147.75,"y":2,"l":0.6,"h":3.4},{"x":148.25,"y":1,"l":0.5,"h":2},{"x":148.75,"y":3,"l":1.3,"h":4.7},{"x":149.25,"y":2,"l":0.6,"h":3.4},{"x":149.75,"y":3,"l":1.3,"h":4.7},
{"x":150.25,"y":2,"l":0.6,"h":3.4},{"x":150.75,"y":1,"l":0.5,"h":2},{"x":151.25,"y":2,"l":0.6,"h":3.4},{"x":151.75,"y":3,"l":1.3,"h":4.7},{"x":152.25,"y":2,"l":0.6,"h":3.4},{"x":152.75,"y":1,"l":0.5,"h":2},{"x":153.25,"y":2,"l":0.6,"h":3.4},{"x":153.75,"y":2,"l":0.6,"h":3.4},{"x":154.25,"y":1,"l":0.5,"h":2},{"x":154.75,"y":2,"l":0.6,"h":3.4},
{"x":155.25,"y":1,"l":0.5,"h":2},{"x":155.75,"y":2,"l":0.6,"h":3.4},{"x":156.25,"y":2,"l":0.6,"h":3.4},{"x":156.75,"y":1,"l":0.5,"h":2},{"x":157.25,"y":2,"l":0.6,"h":3.4},{"x":157.75,"y":1,"l":0.5,"h":2},{"x":158.25,"y":2,"l":0.6,"h":3.4},{"x":158.75,"y":2,"l":0.6,"h":3.4},{"x":159.25,"y":1,"l":0.5,"h":2},{"x":159.75,"y":2,"l":0.6,"h":3.4},
{"x":160.25,"y":3,"l":1.3,"h":4.7},{"x":160.75,"y":1,"l":0.5,"h":2},{"x":161.25,"y":2,"l":0.6,"h":3.4},{"x":161.75,"y":2,"l":0.6,"h":3.4},{"x":162.25,"y":1,"l":0.5,"h":2},{"x":162.75,"y":2,"l":0.6,"h":3.4},{"x":163.25,"y":1,"l":0.5,"h":2},{"x":163.75,"y":2,"l":0.6,"h":3.4},{"x":164.25,"y":2,"l":0.6,"h":3.4},{"x":164.75,"y":1,"l":0.5,"h":2},
{"x":165.25,"y":2,"l":0.6,"h":3.4},{"x":165.75,"y":1,"l":0.5,"h":2},{"x":166.25,"y":2,"l":0.6,"h":3.4},{"x":166.75,"y":2,"l":0.6,"h":3.4},{"x":167.25,"y":1,"l":0.5,"h":2},{"x":167.75,"y":2,"l":0.6,"h":3.4},{"x":168.25,"y":1,"l":0.5,"h":2},{"x":168.75,"y":1,"l":0.5,"h":2},{"x":169.25,"y":2,"l":0.6,"h":3.4},{"x":169.75,"y":2,"l":0.6,"h":3.4},
{"x":170.25,"y":1,"l":0.5,"h":2},{"x":170.75,"y":2,"l":0.6,"h":3.4},{"x":171.25,"y":1,"l":0.5,"h":2},{"x":171.75,"y":2,"l":0.6,"h":3.4},{"x":172.25,"y":2,"l":0.6,"h":3.4},{"x":172.75,"y":1,"l":0.5,"h":2},{"x":173.25,"y":2,"l":0.6,"h":3.4},{"x":173.75,"y":1,"l":0.5,"h":2},{"x":174.25,"y":2,"l":0.6,"h":3.4},{"x":174.75,"y":1,"l":0.5,"h":2},
{"x":175.25,"y":2,"l":0.6,"h":3.4},{"x":175.75,"y":1,"l":0.5,"h":2},{"x":176.25,"y":2,"l":0.6,"h":3.4},{"x":176.75,"y":1,"l":0.5,"h":2},{"x":177.25,"y":1,"l":0.5,"h":2},{"x":177.75,"y":2,"l":0.6,"h":3.4},{"x":178.25,"y":2,"l":0.6,"h":3.4},{"x":178.75,"y":1,"l":0.5,"h":2},{"x":179.25,"y":2,"l":0.6,"h":3.4},{"x":179.75,"y":1,"l":0.5,"h":2},
{"x":180.25,"y":1,"l":0.5,"h":2},{"x":180.75,"y":2,"l":0.6,"h":3.4},{"x":181.25,"y":1,"l":0.5,"h":2},{"x":181.75,"y":1,"l":0.5,"h":2},{"x":182.25,"y":2,"l":0.6,"h":3.4},{"x":182.75,"y":1,"l":0.5,"h":2},{"x":183.25,"y":2,"l":0.6,"h":3.4},{"x":183.75,"y":1,"l":0.5,"h":2},{"x":184.25,"y":1,"l":0.5,"h":2},{"x":184.75,"y":2,"l":0.6,"h":3.4},
{"x":185.25,"y":1,"l":0.5,"h":2},{"x":185.75,"y":1,"l":0.5,"h":2},{"x":186.25,"y":2,"l":0.6,"h":3.4},{"x":186.75,"y":1,"l":0.5,"h":2},{"x":187.25,"y":2,"l":0.6,"h":3.4},{"x":187.75,"y":1,"l":0.5,"h":2},{"x":188.25,"y":1,"l":0.5,"h":2},{"x":188.75,"y":2,"l":0.6,"h":3.4},{"x":189.25,"y":1,"l":0.5,"h":2},{"x":189.75,"y":1,"l":0.5,"h":2},
{"x":190.25,"y":2,"l":0.6,"h":3.4},{"x":190.75,"y":1,"l":0.5,"h":2},{"x":191.25,"y":1,"l":0.5,"h":2},{"x":191.75,"y":2,"l":0.6,"h":3.4},{"x":192.25,"y":1,"l":0.5,"h":2},{"x":192.75,"y":1,"l":0.5,"h":2},{"x":193.25,"y":2,"l":0.6,"h":3.4},{"x":193.75,"y":1,"l":0.5,"h":2},{"x":194.25,"y":2,"l":0.6,"h":3.4},{"x":194.75,"y":1,"l":0.5,"h":2},
{"x":195.25,"y":1,"l":0.5,"h":2},{"x":195.75,"y":2,"l":0.6,"h":3.4},{"x":196.25,"y":1,"l":0.5,"h":2},{"x":196.75,"y":1,"l":0.5,"h":2},{"x":197.25,"y":2,"l":0.6,"h":3.4},{"x":197.75,"y":1,"l":0.5,"h":2},{"x":198.25,"y":1,"l":0.5,"h":2},{"x":198.75,"y":2,"l":0.6,"h":3.4},{"x":199.25,"y":1,"l":0.5,"h":2},{"x":199.75,"y":1,"l":0.5,"h":2}
]
},
"layer": [
{
  "data": {"name": "GBL"},
  "mark": {"type": "rule", "strokeWidth": 2.2, "opacity": 0.8, "clip": true},
  "encoding": {
    "x": {"field": "x", "type": "quantitative", "scale": {"domain": [-10, 210], "nice": false, "zero": false},
      "axis": {"orient": "bottom", "values": [0,25,50,75,100,125,150,175,200], "tickSize": -12, "labelPadding": 17, "labelFontSize": 23, "labelFlush": false, "title": "trk_params/Chi2_bottom", "titleFontSize": 29, "titleFontWeight": "normal", "titleAnchor": "end", "titleBaseline": "alphabetic", "titleY": 54}},
    "y": {"field": "l", "type": "quantitative", "scale": {"type": "log", "domain": [0.738, 1222], "nice": false},
      "axis": {"orient": "left", "values": [1,10,100,1000], "tickSize": -12, "labelPadding": 19, "labelFontSize": 24, "labelExpr": "datum.value == 1 ? '10⁰' : datum.value == 10 ? '10¹' : datum.value == 100 ? '10²' : '10³'", "title": null}},
    "y2": {"field": "h"},
    "color": {"datum": "GBL", "type": "nominal", "scale": {"domain": ["GBL", "KF"], "range": ["#1f77b4", "#ff7f0e"]},
      "legend": {"orient": "none", "legendX": 553, "legendY": 14, "title": null, "symbolType": "M-1,0H1M0,-0.65V0.65", "symbolSize": 1369, "symbolStrokeWidth": 2.2, "symbolOpacity": 0.85, "labelFontSize": 24, "labelColor": "black", "labelOffset": 20, "rowPadding": 0, "padding": 0}}
  }
},
{
  "data": {"name": "KF"},
  "mark": {"type": "rule", "strokeWidth": 2.2, "opacity": 0.8, "clip": true},
  "encoding": {
    "x": {"field": "x", "type": "quantitative",
      "axis": {"orient": "bottom", "values": [-5,5,10,15,20,30,35,40,45,55,60,65,70,80,85,90,95,105,110,115,120,130,135,140,145,155,160,165,170,180,185,190,195,205], "tickSize": -6, "labels": false, "title": null}},
    "y": {"field": "l", "type": "quantitative",
      "axis": {"orient": "left", "values": [0.8,0.9,2,3,4,5,6,7,8,9,20,30,40,50,60,70,80,90,200,300,400,500,600,700,800,900], "tickSize": -6, "labels": false, "title": null}},
    "y2": {"field": "h"},
    "color": {"datum": "KF", "type": "nominal"}
  }
},
{
  "data": {"name": "KF"},
  "transform": [{"filter": "datum.x == 100.25"}],
  "mark": {"type": "rule", "opacity": 0},
  "encoding": {
    "x": {"field": "x", "type": "quantitative",
      "axis": {"orient": "top", "values": [0,25,50,75,100,125,150,175,200], "tickSize": -12, "labels": false, "title": null}},
    "y": {"field": "l", "type": "quantitative",
      "axis": {"orient": "right", "values": [1,10,100,1000], "tickSize": -12, "labels": false, "title": null}},
    "y2": {"field": "h"}
  }
},
{
  "data": {"name": "KF"},
  "transform": [{"filter": "datum.x == 100.25"}],
  "mark": {"type": "rule", "opacity": 0},
  "encoding": {
    "x": {"field": "x", "type": "quantitative",
      "axis": {"orient": "top", "values": [-5,5,10,15,20,30,35,40,45,55,60,65,70,80,85,90,95,105,110,115,120,130,135,140,145,155,160,165,170,180,185,190,195,205], "tickSize": -6, "labels": false, "title": null}},
    "y": {"field": "l", "type": "quantitative",
      "axis": {"orient": "right", "values": [0.8,0.9,2,3,4,5,6,7,8,9,20,30,40,50,60,70,80,90,200,300,400,500,600,700,800,900], "tickSize": -6, "labels": false, "title": null}},
    "y2": {"field": "h"}
  }
}
],
"resolve": {"axis": {"x": "independent", "y": "independent"}}
}
